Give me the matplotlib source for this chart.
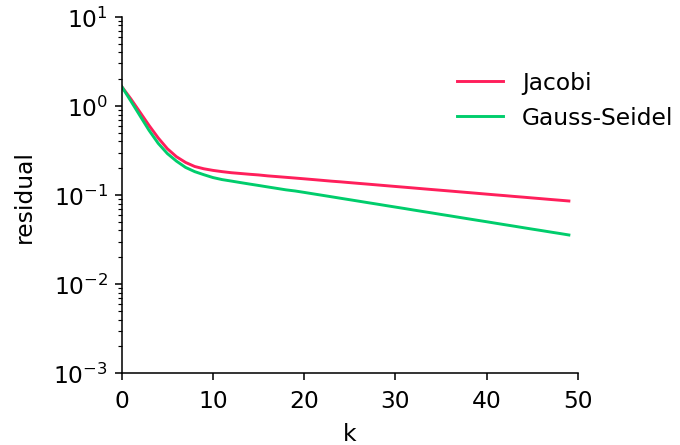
import matplotlib
matplotlib.use("Agg")
import matplotlib.pyplot as plt
import numpy as np

k = list(range(50))
jacobi = [1.65, 1.20, 0.851, 0.603, 0.437, 0.331, 0.269, 0.232, 0.209, 0.197,
          0.189, 0.183, 0.178, 0.1745, 0.171, 0.168, 0.164, 0.161, 0.158, 0.155,
          0.152, 0.149, 0.146, 0.143, 0.1405, 0.1377, 0.135, 0.1324, 0.1298, 0.1272,
          0.1247, 0.1223, 0.1199, 0.1175, 0.1152, 0.1130, 0.1108, 0.1086, 0.1065, 0.1044,
          0.1023, 0.1003, 0.0984, 0.0964, 0.0946, 0.0927, 0.0909, 0.0891, 0.0874, 0.0857]
gauss_seidel = [1.65, 1.135, 0.776, 0.531, 0.380, 0.292, 0.240, 0.204, 0.183, 0.169,
                0.157, 0.149, 0.1435, 0.138, 0.1328, 0.1280, 0.1232, 0.1187, 0.1143, 0.111,
                0.107, 0.103, 0.0992, 0.0955, 0.0919, 0.0885, 0.0852, 0.0820, 0.0790, 0.0760,
                0.0732, 0.0705, 0.0678, 0.0653, 0.0629, 0.0605, 0.0583, 0.0561, 0.0540, 0.0520,
                0.0501, 0.0482, 0.0464, 0.0447, 0.0430, 0.0414, 0.0399, 0.0384, 0.0370, 0.0356]
labels = ["Jacobi", "Gauss-Seidel"]
colors = ["#ff1f5b", "#00cd6c"]

plt.rcParams['font.size'] = 12
DPI = 140
fig = plt.figure(figsize=(680 / DPI, 446 / DPI), dpi=DPI)
ax = fig.add_axes([0.179, 0.161, 0.671, 0.799])
ax.plot(k, jacobi, color=colors[0], lw=1.5, label=labels[0])
ax.plot(k, gauss_seidel, color=colors[1], lw=1.5, label=labels[1])
ax.set_yscale('log')
ax.set_ylim(1e-3, 1e1)
ax.set_xlim(0, 50)
ax.set_xticks([0, 10, 20, 30, 40, 50])
ax.tick_params(axis='x', pad=4.5)
ax.set_xlabel('k', labelpad=5.5)
ax.set_ylabel('residual', labelpad=9)
ax.spines['top'].set_visible(False)
ax.spines['right'].set_visible(False)
fig.legend(loc='upper left', bbox_to_anchor=(0.658, 0.859), frameon=False, borderaxespad=0)
fig.savefig('out.png', dpi=DPI)
